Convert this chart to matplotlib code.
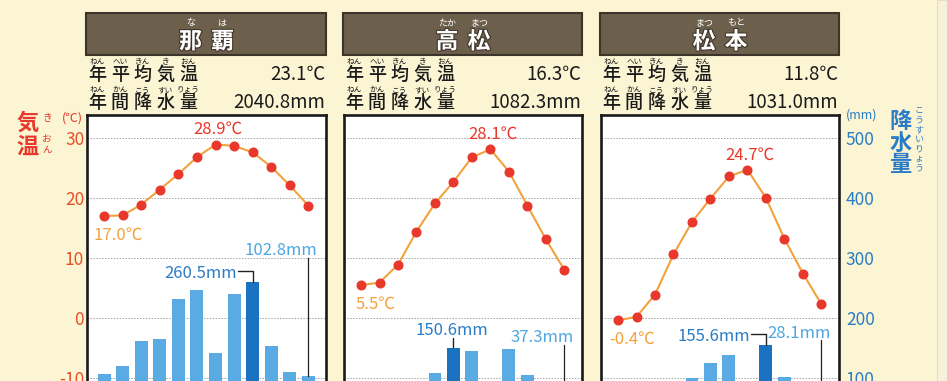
import matplotlib
matplotlib.use("Agg")
import matplotlib.pyplot as plt
import matplotlib.patheffects as pe
from matplotlib.patches import Rectangle

plt.rcParams['font.family'] = ['Noto Sans CJK JP', 'DejaVu Sans']
plt.rcParams['axes.unicode_minus'] = False

# --- data (1981-2010 normals) ---
months = list(range(12))

cities = ["那覇", "高松", "松本"]
city_ruby = [["な", "は"], ["たか", "まつ"], ["まつ", "もと"]]
annual_temp = ["23.1℃", "16.3℃", "11.8℃"]
annual_precip = ["2040.8mm", "1082.3mm", "1031.0mm"]

naha_temp = [17.0, 17.1, 18.9, 21.4, 24.0, 26.8, 28.9, 28.7, 27.6, 25.2, 22.1, 18.7]
takamatsu_temp = [5.5, 5.9, 8.9, 14.4, 19.1, 22.7, 26.8, 28.1, 24.4, 18.7, 13.1, 8.0]
matsumoto_temp = [-0.4, 0.2, 3.9, 10.6, 16.0, 19.9, 23.6, 24.7, 20.0, 13.2, 7.4, 2.3]

naha_precip = [107.0, 119.7, 161.4, 165.7, 231.6, 247.2, 141.4, 240.5, 260.5, 152.9, 110.2, 102.8]
takamatsu_precip = [38.2, 47.7, 82.5, 76.4, 107.7, 150.6, 144.1, 85.8, 147.6, 104.2, 60.3, 37.3]
matsumoto_precip = [35.9, 43.5, 79.6, 75.0, 100.0, 125.7, 138.0, 92.1, 155.6, 102.2, 54.9, 28.1]

temp_ticks = [-10, 0, 10, 20, 30]
precip_ticks = [100, 200, 300, 400, 500]

stat_words = ["年平均気温", "年間降水量"]
stat_ruby = [["ねん", "へい", "きん", "き", "おん"],
             ["ねん", "かん", "こう", "すい", "りょう"]]

temps = [naha_temp, takamatsu_temp, matsumoto_temp]
precips = [naha_precip, takamatsu_precip, matsumoto_precip]

# --- style / layout ---
bg = "#fcf5d3"
red = "#e8372b"
orange = "#f2a23c"
tick_red = "#e8502a"
light_blue = "#5aaae4"
dark_blue = "#1a72c0"
label_blue = "#2a7cc6"
mm_blue = "#4fa6e0"
banner = "#6c5f4b"

W, H = 947, 381
def fx(x):
    return x / W
def fy(y):
    return 1 - y / H

box_left = [87, 344, 601]
box_w = [239, 238, 238]
top_px, bottom_px = 115, 438
# where the month-12 leader line starts (mm) and max-bar label style
dec_line_top = [300, 155, 163]
max_style = ["bracket", "stem", "bracket"]

fig = plt.figure(figsize=(W / 100, H / 100), dpi=100, facecolor=bg)
fig.patches.append(Rectangle((fx(937), 0), fx(10), 1, transform=fig.transFigure,
                             facecolor="#f7f1dc", edgecolor="#e8dfc0", lw=0.8))

pt = 0.72  # points per pixel

for i in range(3):
    L, w = box_left[i], box_w[i]
    temp, prec = temps[i], precips[i]

    ax = fig.add_axes([fx(L), fy(bottom_px), w / W, (bottom_px - top_px) / H])
    ax2 = ax.twinx()
    ax.set_zorder(ax2.get_zorder() + 1)
    ax.patch.set_visible(False)
    ax2.patch.set_visible(True)
    ax2.patch.set_facecolor("white")

    imax = prec.index(max(prec))
    colors = [light_blue] * 12
    colors[imax] = dark_blue
    ax2.bar(months, prec, width=0.7, color=colors, zorder=2)
    ax2.set_ylim(0, 538)
    ax2.set_yticks(precip_ticks)
    ax2.grid(axis="y", color="#a3a3a3", lw=0.7, linestyle=(0, (1.5, 1.5)))
    ax2.set_axisbelow(True)

    ax.plot(months, temp, color=orange, lw=1.5, marker="o", ms=6.2,
            mfc=red, mec=red, zorder=3)
    ax.set_xlim(-0.92, 11.95)
    ax.set_ylim(-20, 33.83)
    ax.set_yticks(temp_ticks)
    ax.set_xticks([])

    for s in ax.spines.values():
        s.set_linewidth(1.9)
        s.set_color("#1a1a1a")
    for s in ax2.spines.values():
        s.set_visible(False)

    ax.tick_params(length=0, labelsize=12.5, labelcolor=tick_red, pad=2)
    ax2.tick_params(length=0, labelsize=12.5, labelcolor=label_blue, pad=5)
    if i != 0:
        ax.set_yticklabels([])
    if i != 2:
        ax2.set_yticklabels([])

    # max / min temperature labels
    tmax = temp.index(max(temp))
    tmin = temp.index(min(temp))
    ax.annotate(f"{temp[tmax]:.1f}℃", (tmax, temp[tmax]), xytext=(2 * pt, 15 * pt),
                textcoords="offset points", ha="center", va="center",
                fontsize=12, color=red)
    ax.annotate(f"{temp[tmin]:.1f}℃", (tmin, temp[tmin]), xytext=(14 * pt, -19 * pt),
                textcoords="offset points", ha="center", va="center",
                fontsize=12, color=orange)

    # max precipitation label
    if max_style[i] == "bracket":
        ax2.annotate(f"{prec[imax]:.1f}mm", (imax, prec[imax]), xytext=(-16 * pt, 8 * pt),
                     textcoords="offset points", ha="right", va="center",
                     fontsize=12, color=label_blue)
        ax2.annotate("", (imax, prec[imax]), xytext=(-15 * pt, 11 * pt),
                     textcoords="offset points",
                     arrowprops=dict(arrowstyle="-", color="#222222", lw=1,
                                     shrinkA=0, shrinkB=0,
                                     connectionstyle="angle,angleA=0,angleB=90,rad=0"))
    else:
        ax2.annotate(f"{prec[imax]:.1f}mm", (imax, prec[imax]), xytext=(-2 * pt, 17 * pt),
                     textcoords="offset points", ha="center", va="center",
                     fontsize=12, color=label_blue)
        ax2.annotate("", (imax, prec[imax]), xytext=(0, 9 * pt),
                     textcoords="offset points",
                     arrowprops=dict(arrowstyle="-", color="#222222", lw=1,
                                     shrinkA=0, shrinkB=0))

    # December precipitation label with leader line
    ax2.plot([11, 11], [dec_line_top[i], prec[11]], color="#222222", lw=0.9, zorder=3)
    ax2.annotate(f"{prec[11]:.1f}mm", (11, dec_line_top[i]), xytext=(9 * pt, 7 * pt),
                 textcoords="offset points", ha="right", va="center",
                 fontsize=12, color=mm_blue)

    # title banner
    fig.patches.append(Rectangle((fx(L - 1), fy(55)), (w + 1) / W, 42 / H,
                                 transform=fig.transFigure, facecolor=banner,
                                 edgecolor="#3c3428", lw=1.5))
    cx = L + w / 2
    for k, ch in enumerate(cities[i]):
        x = cx + (k - 0.5) * 32
        fig.text(fx(x), fy(42), ch, fontsize=16.5, fontweight="bold", color="white",
                 ha="center", va="center",
                 path_effects=[pe.withStroke(linewidth=1.5, foreground="#3c3428")])
        fig.text(fx(x), fy(23), city_ruby[i][k], fontsize=6.5, color="white",
                 ha="center", va="center")

    # annual stats
    values = [annual_temp[i], annual_precip[i]]
    for r, (word, ruby) in enumerate(zip(stat_words, stat_ruby)):
        yc = 75 + r * 28
        for k, ch in enumerate(word):
            x = L + 10 + k * 22.75
            fig.text(fx(x), fy(yc), ch, fontsize=13, fontweight="medium", color="#1a1a1a",
                     ha="center", va="center")
            fig.text(fx(x), fy(yc - 13), ruby[k], fontsize=5.5, color="#1a1a1a",
                     ha="center", va="center")
        fig.text(fx(L + w - 1), fy(yc), values[r], fontsize=13.5, color="#1a1a1a",
                 ha="right", va="center")

# left axis title
fig.text(fx(28), fy(123), "気", fontsize=16, fontweight="bold", color=red, ha="center", va="center")
fig.text(fx(28), fy(147), "温", fontsize=16, fontweight="bold", color=red, ha="center", va="center")
for ch, y in zip(["き", "お", "ん"], [118, 139, 150]):
    fig.text(fx(47), fy(y), ch, fontsize=7, color=red, ha="center", va="center")
fig.text(fx(72), fy(118), "(℃)", fontsize=9, color=red, ha="center", va="center")

# right axis title
for ch, y in zip("降水量", [121, 143, 164]):
    fig.text(fx(901), fy(y), ch, fontsize=16, fontweight="bold", color=label_blue,
             ha="center", va="center")
for k, ch in enumerate("こうすいりょう"):
    fig.text(fx(919), fy(110 + k * 9.7), ch, fontsize=6.5, color=label_blue,
             ha="center", va="center")
fig.text(fx(862), fy(115), "(mm)", fontsize=9, color=label_blue, ha="center", va="center")

fig.savefig("out.png", dpi=100, facecolor=bg)
